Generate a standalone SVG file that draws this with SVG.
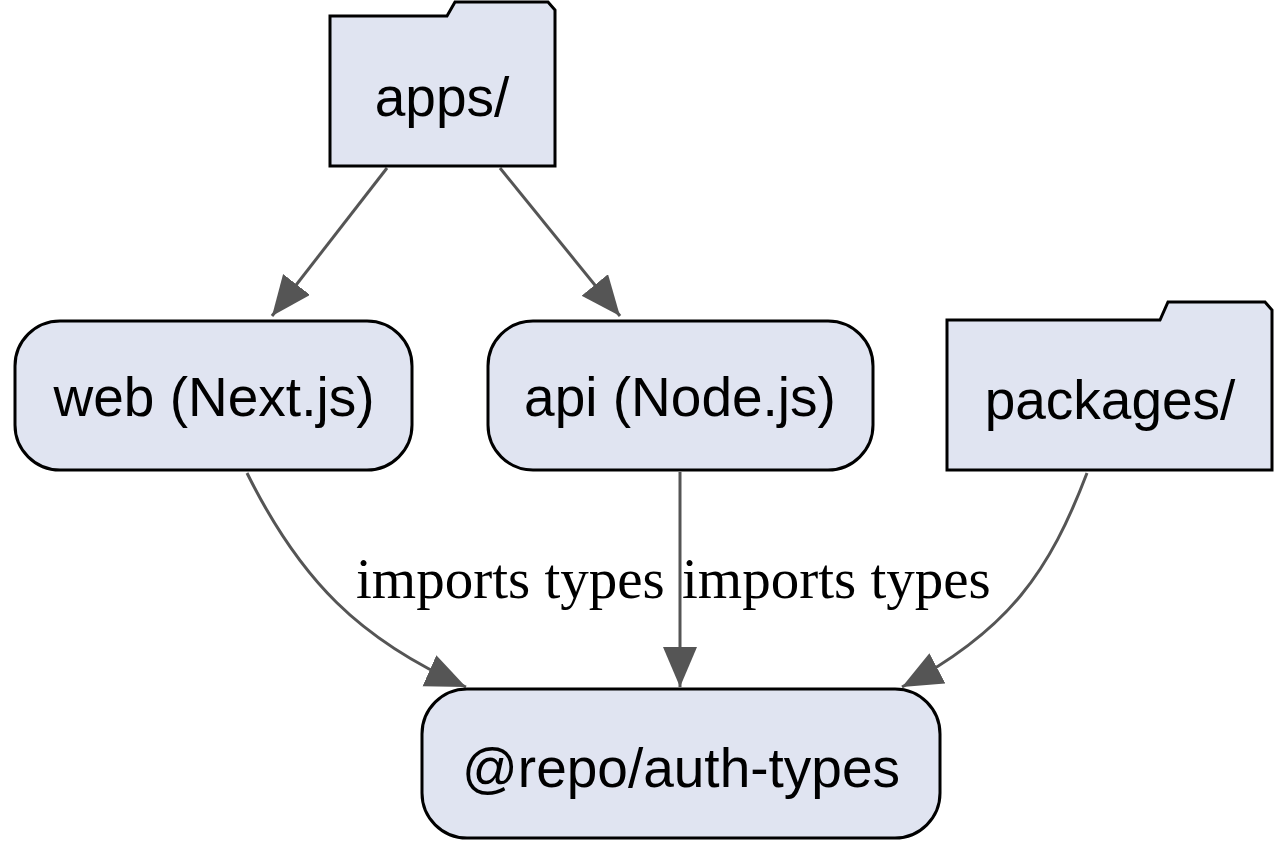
<svg xmlns="http://www.w3.org/2000/svg" width="1288" height="856" viewBox="0 0 1288 856">
<style>
.n{fill:#e0e4f1;stroke:#000;stroke-width:3}
.t{font-family:"Liberation Sans",Arial,sans-serif;font-size:55px;fill:#000;text-anchor:middle}
.e{fill:none;stroke:#555;stroke-width:3}
.l{font-family:"Liberation Serif","Times New Roman",serif;font-size:57px;fill:#000}
</style>
<defs><marker id="a" markerUnits="userSpaceOnUse" markerWidth="46" markerHeight="36" refX="40" refY="17" orient="auto"><path d="M0,0L40,17L0,34Z" fill="#555"/></marker></defs>
<rect width="1288" height="856" fill="#fff"/>
<g id="edges">
<path class="e" d="M387,168L272,316" marker-end="url(#a)"/>
<path class="e" d="M500,168L620,316" marker-end="url(#a)"/>
<path class="e" d="M247,473C300,580 360,640 466,687" marker-end="url(#a)"/>
<path class="e" d="M680,472L680,687" marker-end="url(#a)"/>
<path class="e" d="M1087,473C1050,570 1010,630 902,687" marker-end="url(#a)"/>
<text class="l" x="356" y="598">imports types</text>
<text class="l" x="682" y="598">imports types</text>
</g>
<g id="apps"><path class="n" d="M330,166L330,16L447,16L455,2L548,2L555,10L555,166Z"/><text class="t" x="442" y="116">apps/</text></g>
<g id="web"><rect class="n" x="15" y="321" width="397" height="149" rx="45"/><text class="t" x="214" y="416">web (Next.js)</text></g>
<g id="api"><rect class="n" x="488" y="321" width="385" height="149" rx="45"/><text class="t" x="680" y="416">api (Node.js)</text></g>
<g id="packages"><path class="n" d="M947,470L947,320L1160,320L1168,302L1265,302L1272,310L1272,470Z"/><text class="t" x="1110" y="419">packages/</text></g>
<g id="auth"><rect class="n" x="422" y="689" width="518" height="149" rx="45"/><text class="t" x="681" y="787">@repo/auth-types</text></g>
</svg>
